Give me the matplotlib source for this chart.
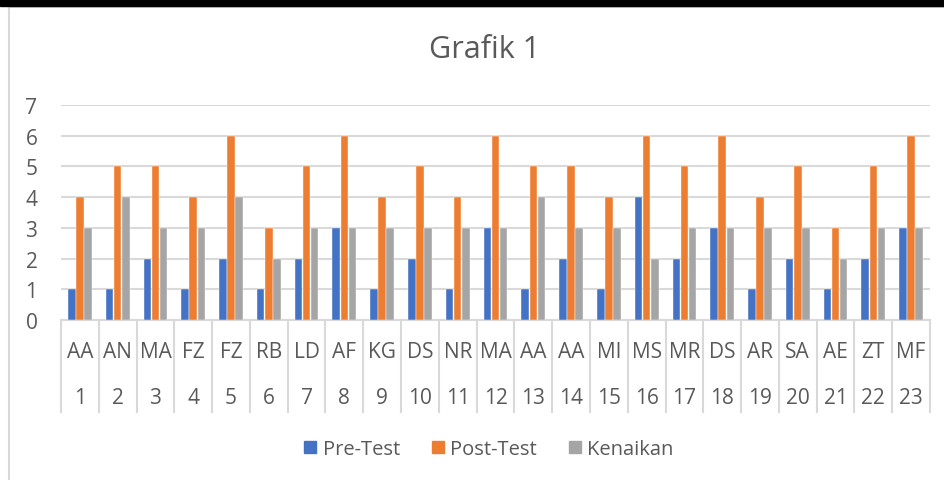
import numpy as np
import matplotlib
matplotlib.use("Agg")
import matplotlib.pyplot as plt
from matplotlib.lines import Line2D
from matplotlib.patches import Rectangle

plt.rcParams['font.family'] = ['Open Sans', 'DejaVu Sans']

names = ["AA", "AN", "MA", "FZ", "FZ", "RB", "LD", "AF", "KG", "DS", "NR", "MA",
         "AA", "AA", "MI", "MS", "MR", "DS", "AR", "SA", "AE", "ZT", "MF"]
numbers = [str(i) for i in range(1, 24)]
pre_test = [1, 1, 2, 1, 2, 1, 2, 3, 1, 2, 1, 3, 1, 2, 1, 4, 2, 3, 1, 2, 1, 2, 3]
post_test = [4, 5, 5, 4, 6, 3, 5, 6, 4, 5, 4, 6, 5, 5, 4, 6, 5, 6, 4, 5, 3, 5, 6]
kenaikan = [3, 4, 3, 3, 4, 2, 3, 3, 3, 3, 3, 3, 4, 3, 3, 2, 3, 3, 3, 3, 2, 3, 3]

series = [("Pre-Test", pre_test, "#4472c4"),
          ("Post-Test", post_test, "#ed7d31"),
          ("Kenaikan", kenaikan, "#a5a5a5")]

W, H = 944, 481
fig = plt.figure(figsize=(W / 100, H / 100), dpi=100)
txt = "#595959"
grid = "#d9d9d9"

# frame bits
fig.patches.append(Rectangle((0, 1 - 7 / H), 1, 7 / H, transform=fig.transFigure,
                             color="black", zorder=5))
fig.add_artist(Line2D([9 / W, 1], [1 - 8 / H, 1 - 8 / H], color=grid, lw=1.5))
fig.add_artist(Line2D([9 / W, 9 / W], [0, 1 - 8 / H], color=grid, lw=1.5))

left, right = 61 / W, 930 / W
bottom, top = 1 - 321 / H, 1 - 106 / H
ax = fig.add_axes([left, bottom, right - left, top - bottom])

x = np.arange(len(names))
bw = 0.2
offs = [-0.215, 0, 0.215]
for (lab, vals, col), o in zip(series, offs):
    ax.bar(x + o, vals, width=bw, color=col, label=lab, zorder=3,
           edgecolor="white", linewidth=0.3)

ax.set_xlim(-0.5, len(names) - 0.5)
ax.set_ylim(0, 7)
ax.set_yticks(range(0, 8))
ax.yaxis.grid(True, color=grid, lw=1.5, zorder=0)
ax.tick_params(axis="y", length=0, labelsize=15, labelcolor=txt, pad=17)
ax.tick_params(axis="x", length=0, labelbottom=False)
for s in ["top", "right", "left"]:
    ax.spines[s].set_visible(False)
ax.spines["bottom"].set_color(grid)
ax.spines["bottom"].set_linewidth(1.5)

# two-level category axis
sep_bottom = 1 - 413 / H
sep_top = bottom
for i in range(len(names) + 1):
    xf = left + (right - left) * i / len(names)
    fig.add_artist(Line2D([xf, xf], [sep_bottom, sep_top], color=grid, lw=1.5))
for i in range(len(names)):
    xf = left + (right - left) * (i + 0.5) / len(names)
    fig.text(xf, 1 - 353 / H, names[i], ha="center", va="center",
             fontsize=15, color=txt)
    fig.text(xf, 1 - 398 / H, numbers[i], ha="center", va="center",
             fontsize=15, color=txt)

fig.text(0.513, 1 - 50 / H, "Grafik 1", ha="center", va="center",
         fontsize=22, color=txt)

handles = [Rectangle((0, 0), 1, 1, color=c) for _, _, c in series]
fig.legend(handles, [s[0] for s in series], loc="center",
           bbox_to_anchor=(0.518, 1 - 450 / H), ncol=3, frameon=False,
           fontsize=14.5, labelcolor=txt, handlelength=0.6, handleheight=0.6,
           handletextpad=0.3, columnspacing=1.6)

fig.savefig("out.png", dpi=100, facecolor="white")
